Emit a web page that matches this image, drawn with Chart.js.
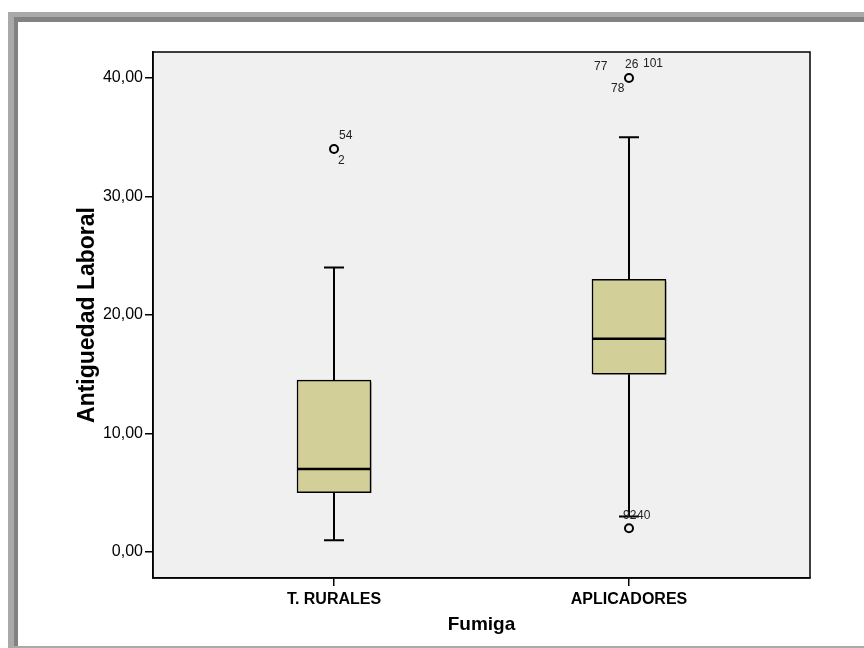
<!DOCTYPE html>
<html>
<head>
<meta charset="utf-8">
<script src="https://cdn.jsdelivr.net/npm/chart.js@4.4.1/dist/chart.umd.min.js"></script>
<style>
  html, body { margin: 0; padding: 0; background: #fff; }
  #chart { display: block; }
</style>
</head>
<body>
<canvas id="chart" width="864" height="648"></canvas>
<script>
// Boxplot data (read from the SPSS output)
const categories = ['T. RURALES', 'APLICADORES'];
const whiskerLow = [1, 3];
const q1 = [5, 15];
const medians = [7, 18];
const q3 = [14.5, 23];
const whiskerHigh = [24, 35];
const outlierX = [0, 1, 1];
const outlierY = [34, 40, 2];
const outlierIds = [['54', '2'], ['77', '26', '101', '78'], ['92', '40']];
const yTicks = [0, 10, 20, 30, 40];
const xTicks = [0, 1];

// label offsets (px) next to each outlier circle
const idOffsets = [
    [[5, -13], [4, 12]],
    [[-35, -11], [-4, -13], [14, -14], [-18, 11]],
    [[-6, -12.5], [8, -12.5]]
];

const FONT = "'Liberation Sans', Arial, sans-serif";
Chart.defaults.font.family = FONT;
Chart.defaults.color = '#000';

// Window frame + plot background
const framePlugin = {
    id: 'frame',
    beforeDraw(chart) {
        const ctx = chart.ctx;
        const a = chart.chartArea;
        ctx.save();
        ctx.fillStyle = '#a9a9a9';
        ctx.fillRect(8, 12, 856, 636);
        ctx.fillStyle = '#828282';
        ctx.fillRect(14, 17, 850, 629);
        ctx.fillStyle = '#fff';
        ctx.fillRect(18, 22, 846, 624);
        ctx.fillStyle = '#f0f0f0';
        ctx.fillRect(a.left, a.top, a.right - a.left, a.bottom - a.top);
        ctx.restore();
    },
    afterDraw(chart) {
        const ctx = chart.ctx;
        const a = chart.chartArea;
        ctx.save();
        ctx.strokeStyle = '#000';
        ctx.lineWidth = 1.5;
        ctx.strokeRect(a.left, a.top, a.right - a.left, a.bottom - a.top);
        ctx.restore();
    }
};

// Box shadow for the bars
const shadowPlugin = {
    id: 'boxShadow',
    beforeDatasetDraw(chart, args) {
        if (args.index !== 0) return;
        const ctx = chart.ctx;
        ctx.save();
        ctx.shadowColor = 'rgba(0,0,0,0.45)';
        ctx.shadowOffsetX = 2;
        ctx.shadowOffsetY = 2;
        ctx.shadowBlur = 1;
    },
    afterDatasetDraw(chart, args) {
        if (args.index !== 0) return;
        chart.ctx.restore();
    }
};

// Whiskers, caps and medians
const whiskerPlugin = {
    id: 'whiskers',
    afterDatasetsDraw(chart) {
        const ctx = chart.ctx;
        const xs = chart.scales.x;
        const ys = chart.scales.y;
        ctx.save();
        ctx.strokeStyle = '#000';
        categories.forEach((c, i) => {
            const x = xs.getPixelForValue(i);
            ctx.lineWidth = 2;
            ctx.beginPath();
            ctx.moveTo(x, ys.getPixelForValue(q3[i]));
            ctx.lineTo(x, ys.getPixelForValue(whiskerHigh[i]));
            ctx.moveTo(x, ys.getPixelForValue(q1[i]));
            ctx.lineTo(x, ys.getPixelForValue(whiskerLow[i]));
            ctx.moveTo(x - 10, ys.getPixelForValue(whiskerHigh[i]));
            ctx.lineTo(x + 10, ys.getPixelForValue(whiskerHigh[i]));
            ctx.moveTo(x - 10, ys.getPixelForValue(whiskerLow[i]));
            ctx.lineTo(x + 10, ys.getPixelForValue(whiskerLow[i]));
            ctx.stroke();
            ctx.lineWidth = 2.5;
            ctx.beginPath();
            ctx.moveTo(x - 37, ys.getPixelForValue(medians[i]));
            ctx.lineTo(x + 37, ys.getPixelForValue(medians[i]));
            ctx.stroke();
        });
        // outlier case numbers
        ctx.fillStyle = '#222';
        ctx.font = '12px ' + FONT;
        ctx.textAlign = 'left';
        ctx.textBaseline = 'middle';
        outlierIds.forEach((ids, k) => {
            const px = xs.getPixelForValue(outlierX[k]);
            const py = ys.getPixelForValue(outlierY[k]);
            ids.forEach((id, j) => {
                const off = idOffsets[k][j];
                ctx.fillText(id, px + off[0], py + off[1]);
            });
        });
        ctx.restore();
    }
};

new Chart(document.getElementById('chart'), {
    type: 'bar',
    data: {
        datasets: [{
            type: 'bar',
            data: categories.map((c, i) => ({ x: i, y: [q1[i], q3[i]] })),
            backgroundColor: '#d3cf99',
            borderColor: '#000',
            borderWidth: 1.5,
            borderSkipped: false,
            barThickness: 74
        }, {
            type: 'scatter',
            data: outlierX.map((x, i) => ({ x: x, y: outlierY[i] })),
            pointStyle: 'circle',
            pointRadius: 4,
            borderWidth: 2,
            borderColor: '#000',
            backgroundColor: 'rgba(0,0,0,0)'
        }]
    },
    options: {
        responsive: false,
        animation: false,
        layout: { padding: { top: 52, right: 54, bottom: 0, left: 0 } },
        plugins: {
            legend: { display: false },
            tooltip: { enabled: false }
        },
        scales: {
            x: {
                type: 'linear',
                min: -0.6136,
                max: 1.6136,
                offset: false,
                afterBuildTicks: (s) => { s.ticks = xTicks.map(v => ({ value: v })); },
                afterFit: (s) => { s.height = 70; },
                grid: { offset: false, drawOnChartArea: false, drawTicks: true, tickLength: 8, color: '#000', lineWidth: 1.5 },
                border: { display: true, color: '#000', width: 1.5 },
                ticks: {
                    padding: 4,
                    maxRotation: 0,
                    font: { size: 16, weight: 'bold' },
                    color: '#000',
                    callback: (v) => categories[v] || ''
                },
                title: {
                    display: true,
                    text: 'Fumiga',
                    font: { size: 19, weight: 'bold' },
                    color: '#000',
                    padding: { top: 0, bottom: 12 }
                }
            },
            y: {
                min: -2.19,
                max: 42.19,
                afterBuildTicks: (s) => { s.ticks = yTicks.map(v => ({ value: v })); },
                afterFit: (s) => { s.width = 153; },
                grid: { drawOnChartArea: false, drawTicks: true, tickLength: 8, color: '#000', lineWidth: 1.5 },
                border: { display: true, color: '#000', width: 1.5 },
                ticks: {
                    padding: 2,
                    font: { size: 16 },
                    color: '#000',
                    callback: (v) => v.toFixed(2).replace('.', ',')
                },
                title: {
                    display: true,
                    text: 'Antiguedad Laboral',
                    font: { size: 23, weight: 'bold' },
                    color: '#000',
                    padding: { top: 74, bottom: 0 }
                }
            }
        }
    },
    plugins: [framePlugin, shadowPlugin, whiskerPlugin]
});
</script>
</body>
</html>
